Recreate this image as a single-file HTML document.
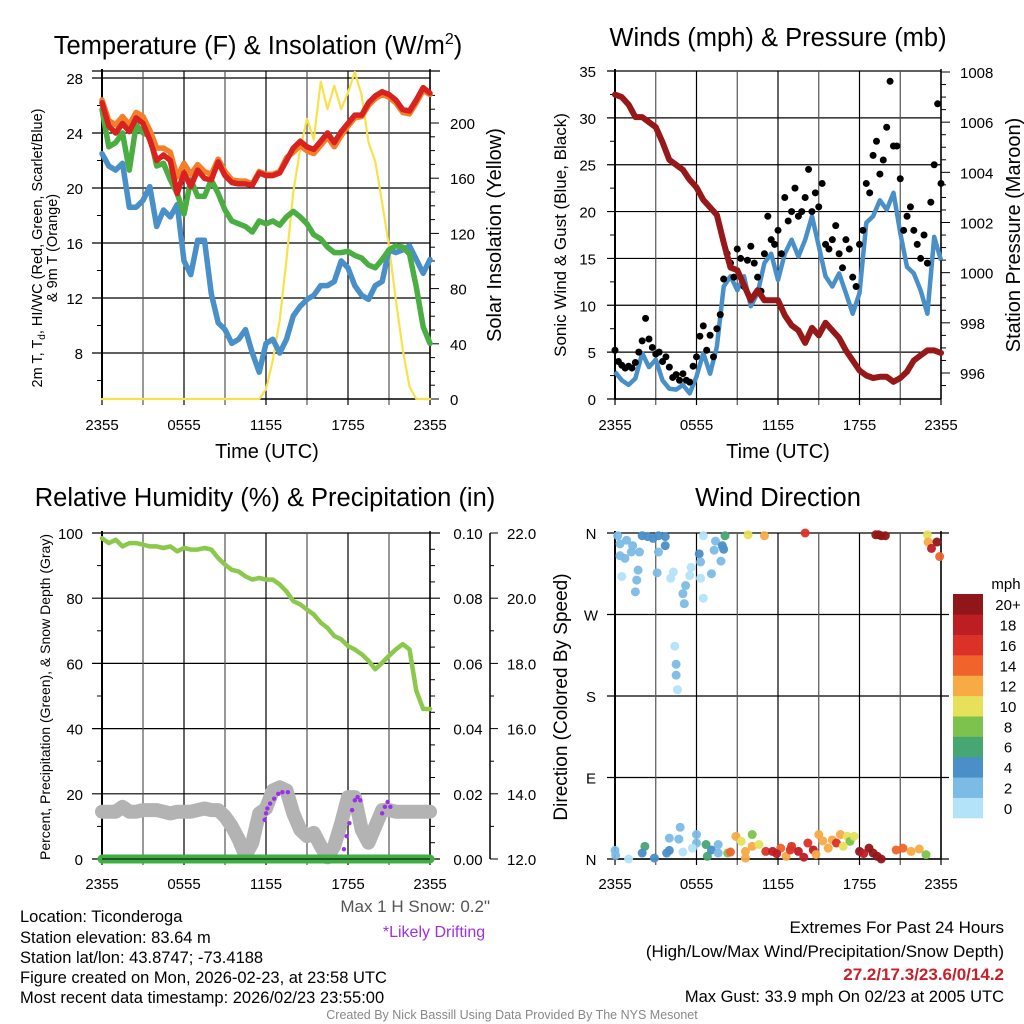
<!DOCTYPE html>
<html><head><meta charset="utf-8"><style>
html,body{margin:0;padding:0;background:#fff;}
svg{display:block;font-family:"Liberation Sans",Arial,sans-serif;}
</style></head><body>
<svg id="c" width="1024" height="1024" viewBox="0 0 1024 1024"></svg>
<script>
// ---------- DATA (half-hourly, hours 0..24 from 2355 UTC) ----------
const hours = [0,0.5,1,1.5,2,2.5,3,3.5,4,4.5,5,5.5,6,6.5,7,7.5,8,8.5,9,9.5,10,10.5,11,11.5,12,12.5,13,13.5,14,14.5,15,15.5,16,16.5,17,17.5,18,18.5,19,19.5,20,20.5,21,21.5,22,22.5,23,23.5,24];
const timeTicks = ["2355","0555","1155","1755","2355"];
const temp2m = [26.2,24.5,24.0,24.7,24.1,25.1,24.7,23.5,22.0,22.4,22.0,19.6,21.1,20.1,21.3,20.7,20.6,21.9,20.9,20.4,20.3,20.3,20.2,21.1,20.9,20.9,21.1,22.0,22.9,23.4,23.0,22.8,23.4,24.0,23.3,24.1,24.7,25.3,25.3,26.2,26.7,27.0,26.8,26.4,25.7,25.6,26.4,27.3,26.9];
const temp9m = [26.4,24.9,24.6,25.2,24.6,25.5,25.2,24.2,22.9,22.9,22.6,20.8,21.8,21.0,21.7,21.2,21.0,22.1,21.2,20.6,20.5,20.5,20.3,21.2,21.0,21.0,21.2,22.2,22.6,23.1,22.7,22.5,23.1,23.7,23.0,23.8,24.5,25.1,25.2,26.0,26.5,26.8,26.6,26.2,25.5,25.4,26.2,27.1,26.8];
const dewpt = [25.7,23.0,23.3,24.0,21.3,24.6,24.0,23.8,21.6,21.8,20.6,19.6,18.1,20.6,19.4,19.4,20.6,19.6,18.4,17.6,17.4,17.2,16.8,17.6,17.4,17.6,17.3,17.9,18.3,17.9,17.4,16.6,16.3,15.7,15.3,15.3,15.4,15.1,14.9,14.4,14.2,14.8,15.5,15.8,15.7,15.2,12.8,9.9,8.7];
const heatIdx = [22.5,21.6,21.3,21.8,18.6,18.6,19.1,20.1,17.2,18.4,17.9,18.8,14.7,13.7,16.2,16.2,12.3,10.2,9.7,8.7,9.0,9.7,8.0,6.6,8.7,9.0,8.0,9.0,10.7,11.4,11.9,12.2,12.9,12.9,13.2,14.7,14.2,12.9,12.2,11.9,12.9,13.2,15.5,15.3,15.5,15.8,14.8,13.8,14.8];
const solar = [0,0,0,0,0,0,0,0,0,0,0,0,0,0,0,0,0,0,0,0,0,0,0,0,7,28,57,101,150,181,203,188,230,210,227,210,222,237,220,186,172,142,111,72,36,9,0,0,0];
const tempTicks = [8,12,16,20,24,28];
const solarTicks = [0,40,80,120,160,200];

const pressure = [1007.1,1007.0,1006.7,1006.2,1006.2,1006.0,1005.8,1005.2,1004.5,1004.3,1004.1,1003.7,1003.4,1002.9,1002.6,1002.3,1001.2,1000.2,1000.1,999.5,998.9,999.3,998.9,998.9,998.9,998.3,997.9,997.7,997.2,997.8,997.5,998.0,997.7,997.4,996.9,996.5,996.1,995.9,995.8,995.85,995.85,995.65,995.8,996.05,996.5,996.7,996.9,996.9,996.8];
const windSpd = [2.9,2.0,1.5,2.2,4.9,3.4,4.2,2.0,1.1,1.0,1.5,0.6,2.4,4.9,2.7,5.6,12.0,13.1,11.6,13.1,9.9,11.3,14.5,15.5,12.7,15.5,17.0,15.2,17.0,19.5,16.3,13.1,12.0,13.4,11.3,9.1,11.3,18.8,19.5,21.2,20.2,22.0,17.7,14.1,13.4,11.6,9.1,17.3,14.8];
// gusts every 15 min
const gustVals = [5.2,4.0,3.6,3.3,3.5,3.3,3.9,5.0,6.2,8.6,6.4,5.5,4.8,5.0,4.0,4.5,3.4,2.3,2.6,2.0,2.7,2.0,1.8,3.5,4.5,6.7,7.8,5.2,6.8,4.5,7.5,9.0,12.8,15.5,14.5,13.0,16.0,15.0,12.0,14.8,16.3,14.5,13.0,11.5,15.5,19.5,17.0,16.5,18.0,15.5,21.5,19.0,20.0,22.5,19.5,20.0,21.5,24.5,20.0,22.0,20.5,23.0,16.5,16.0,17.0,18.5,15.5,14.0,17.0,16.0,13.0,12.0,16.5,18.0,23.0,22.0,26.0,27.5,24.0,25.5,29.0,33.9,27.0,27.0,23.5,18.0,19.5,20.5,18.0,16.5,15.0,17.5,14.5,21.0,25.0,31.5,23.0];
const windTicks = [0,5,10,15,20,25,30,35];
const presTicks = [996,998,1000,1002,1004,1006,1008];

const rh = [98.4,96.9,97.9,95.9,96.9,96.9,96.4,95.9,95.9,95.4,95.9,94.4,95.4,94.9,94.9,95.4,94.9,92.3,90.3,88.7,88.2,86.7,85.7,86.2,85.7,85.7,84.2,82.1,79.1,78.1,76.5,75.0,72.5,70.9,68.4,67.4,65.3,64.3,62.8,60.8,58.2,60.2,62.3,64.3,65.9,64.3,51.6,46.0,46.0];
const snowDepth = [13.45,13.45,13.45,13.6,13.45,13.45,13.5,13.5,13.5,13.45,13.4,13.45,13.45,13.45,13.5,13.55,13.5,13.5,13.3,13.0,12.6,12.1,12.5,13.4,13.55,14.1,14.2,14.1,13.4,12.9,12.7,12.8,12.4,12.05,12.4,13.1,13.9,13.9,12.9,12.5,13.0,13.5,13.5,13.45,13.45,13.45,13.45,13.45,13.45];
const precip = [0,0,0,0,0,0,0,0,0,0,0,0,0,0,0,0,0,0,0,0,0,0,0,0,0,0,0,0,0,0,0,0,0,0,0,0,0,0,0,0,0,0,0,0,0,0,0,0,0];
const driftTimes = [11.9,12.0,12.1,12.3,12.6,12.9,13.2,13.6,17.7,17.9,18.1,18.3,18.5,18.7,18.9,20.5,20.7,20.9,21.1];
const driftDepth = [13.2,13.4,13.55,13.7,13.85,14.0,14.05,14.05,12.3,12.7,13.1,13.5,13.8,13.9,13.8,13.4,13.6,13.75,13.6];
const rhTicks = [0,20,40,60,80,100];
const precipTicks = ["0.00","0.02","0.04","0.06","0.08","0.10"];
const snowTicks = ["12.0","14.0","16.0","18.0","20.0","22.0"];

const dirTimes = [0.2,0.37,0.85,1.3,0.37,0.73,1.2,1.8,0.5,1.7,1.6,1.5,2,2.4,2.8,3.2,3.7,3.7,3.2,3.1,4.3,4.1,5,5.2,5.1,5.5,5.6,6.2,6.3,6.3,6.5,7.1,7.3,7.4,7.9,8,7.8,8.1,6.5,4.4,4.5,4.5,4.6,9.8,11,14,19.6,19.4,19.9,19.2,23,23.05,23.7,23.3,23.9,
 0,0.05,1,2.2,2,2.9,3.8,4,5,4,4.8,4.7,6,6,5.7,6.7,6.8,7.1,7.6,7.6,8.3,8.5,8.9,9.3,9.6,9.6,10.1,10.1,10.6,11.1,11.6,12.2,12.6,13,13.5,13.9,14.2,14.6,15,15.7,16,16.3,16.6,17.1,17.3,17.6,18,18.7,19,19.6,20.7,21.2,21.8,22.4,22.9,11.9,12.9,14.8,15.3,16.8,18.3,19.3];
const dirVals = [357,348,352,346,335,332,339,339,312,319,308,295,357,356,354,357,356,346,339,316,317,310,293,302,282,313,322,337,328,310,288,315,341,351,346,342,329,357,357,235,215,203,187,358,357,360,357,358,357,358,358,350,350,343,334,
 9.5,4,0,14,6.6,1,6.6,9.5,7.7,23,35,22,27,17.6,12,16,3,10,16,6.6,6.6,7.7,25,19.5,8.4,1,27,14,16,8.4,8.4,12,3,14,8.4,2,17.6,10,27,12,21,17.6,27,25,19.5,25,8.4,12,6.6,0,10,12,8.4,11,4.8,6,10,5,20,14,6,3];
const dirSpeeds = [2.5,2.5,2.5,2.5,2.5,2.5,2.5,2.5,0.5,2.5,2.5,2.5,5,5,5,4.5,4.5,5,2.5,2.5,0.5,0.5,2.5,2.5,2.5,0.5,0.5,5,2.5,0.5,0.5,2.5,2.5,2.5,5,5,2.5,6.5,0.5,0.5,2.5,2.5,0.5,10.5,12.5,16.5,21,21,21,21,10.5,12.5,21,18.5,14.5,
 2.5,2.5,0.5,6.5,5,5,5,4.5,0.5,2.5,2.5,2.5,2.5,2.5,0.5,6.5,6.5,5,2.5,2.5,8.5,14.5,12.5,10.5,12.5,12.5,8.5,12.5,10.5,16.5,18.5,14.5,12.5,16.5,18.5,18.5,16.5,18.5,12.5,12.5,12.5,16.5,12.5,10.5,8.5,10.5,21,21,21,21,14.5,14.5,12.5,12.5,8.5,18.5,16.5,12.5,12.5,10.5,18.5,21];
const dirLabels = ["N","E","S","W","N"];
const speedColors = ["#b3e3f8","#7cbbe6","#4a8fc8","#47a772","#7dc24c","#e6e05a","#f8aa45","#f0632b","#dc3128","#bd1e24","#911619"];
const speedLabels = ["0","2","4","6","8","10","12","14","16","18","20+"];

// ---------- helpers ----------
const svg = document.getElementById('c');
const NS = 'http://www.w3.org/2000/svg';
function mk(tag, attrs, parent){
  const e = document.createElementNS(NS, tag);
  for (const k in attrs) e.setAttribute(k, attrs[k]);
  (parent||svg).appendChild(e);
  return e;
}
function txt(s, x, y, size, anchor, parent, extra){
  const a = {x:x, y:y, 'font-size':size, 'text-anchor':anchor||'middle', fill:'#000'};
  if (extra) for (const k in extra) a[k]=extra[k];
  const t = mk('text', a, parent);
  t.textContent = s;
  return t;
}
function linScale(d0,d1,r0,r1){ return v => r0 + (v-d0)/(d1-d0)*(r1-r0); }
function pathFrom(xs, ys){ return xs.map((x,i)=>(i?'L':'M')+x.toFixed(1)+','+ys[i].toFixed(1)).join(''); }

function frame(g, L, R, T, B, xScale, timeLabelY){
  for (let h=0; h<=24; h+=3){
    const x = xScale(h);
    const ln = mk('line',{x1:x,x2:x,y1:T,y2:B+6,stroke:(h%6===0)?'#000':'#555','stroke-width':1.2},g);
    
    
  }
  for (let i=0;i<timeTicks.length;i++){
    const t = txt(timeTicks[i], xScale(i*6), timeLabelY, 15, 'middle', g);
    
    
  }
  mk('line',{x1:L,x2:L,y1:T-2,y2:B,stroke:'#000','stroke-width':2},g);
  mk('line',{x1:R,x2:R,y1:T-2,y2:B,stroke:'#000','stroke-width':1.5},g);
  mk('line',{x1:L,x2:R,y1:B,y2:B,stroke:'#000','stroke-width':1.5},g);
}

// ================= PANEL 1 =================
(function(){
  const g = mk('g',{});
  const L=102,R=430,T=71,B=399;
  const x = linScale(0,24,L,R);
  const y = linScale(28,8,78,353);
  const ys = linScale(0,200,399,123);
  mk('line',{x1:L-10,x2:R+10,y1:T,y2:T,stroke:'#000','stroke-width':1.2},g);
  tempTicks.forEach(v=>{
    const yy=y(v);
    mk('line',{x1:L-10,x2:R,y1:yy,y2:yy,stroke:'#000','stroke-width':1.2},g);
    const t=txt(String(v),L-19,yy+6,15,'end',g);
    
    
  });
  for (let v=6; v<=28; v+=2){ if (v%4) mk('line',{x1:L-5,x2:L,y1:y(v),y2:y(v),stroke:'#000'},g); }
  solarTicks.forEach(v=>{
    const yy=ys(v);
    mk('line',{x1:R,x2:R+9,y1:yy,y2:yy,stroke:'#000'},g);
    const t=txt(String(v),R+20,yy+6,15,'start',g);
    
    
  });
  for (let v=10; v<=220; v+=10){ if (v%40) mk('line',{x1:R,x2:R+5,y1:ys(v),y2:ys(v),stroke:'#000'},g); }
  frame(g,L,R,T,B,x,430);
  const X = hours.map(x);
  const series = [
    ['solar-line', solar.map(ys), '#f9e14b', 2.2],
    ['heat-index-line', heatIdx.map(y), '#4a90c8', 5.5],
    ['dewpoint-line', dewpt.map(y), '#4aae43', 5.5],
    ['temp-9m-line', temp9m.map(y), '#f47f2a', 5.5],
    ['temp-2m-line', temp2m.map(y), '#d7221f', 5.5]
  ];
  series.forEach(s=>{
    const p = mk('path',{d:pathFrom(X,s[1]),fill:'none',stroke:s[2],'stroke-width':s[3],'stroke-linejoin':'round','stroke-linecap':'round'},g);
    
    
  });
  const ti = txt('Temperature (F) & Insolation (W/m',258,54,25.5,'middle',g,{});
  const sup = mk('tspan',{dy:-10,'font-size':16},ti); sup.textContent='2';
  const cl = mk('tspan',{dy:10},ti); cl.textContent=')';
  txt('Time (UTC)',267,458,20,'middle',g,{});
  const yl = mk('text',{transform:'translate(42,248) rotate(-90)','font-size':14.5,'text-anchor':'middle',},g);
  yl.innerHTML='2m T, T<tspan font-size="10" dy="3">d</tspan><tspan dy="-3">, HI/WC (Red, Green, Scarlet/Blue)</tspan>';
  txt('& 9m T (Orange)',0,0,14.5,'middle',g,{transform:'translate(57,248) rotate(-90)',});
  txt('Solar Insolation (Yellow)',0,0,20,'middle',g,{transform:'translate(501,235) rotate(-90)',});
})();

// ================= PANEL 2 =================
(function(){
  const g = mk('g',{});
  const L=615,R=941,T=71,B=399;
  const x = linScale(0,24,L,R);
  const y = linScale(0,35,399,71);
  const yp = linScale(996,1008,373,72);
  windTicks.forEach(v=>{
    const yy=y(v);
    mk('line',{x1:L-8,x2:R,y1:yy,y2:yy,stroke:'#000','stroke-width':1.2},g);
    const t=txt(String(v),L-19,yy+6,15,'end',g);
    
    
  });
  for (let v=2.5; v<35; v+=5) mk('line',{x1:L-5,x2:L,y1:y(v),y2:y(v),stroke:'#000'},g);
  presTicks.forEach(v=>{
    const yy=yp(v);
    mk('line',{x1:R,x2:R+9,y1:yy,y2:yy,stroke:'#000'},g);
    const t=txt(String(v),R+19,yy+6,15,'start',g);
    
    
  });
  for (let v=995.5; v<=1008; v+=0.5){ if (Math.abs(v-Math.round(v/2)*2)>0.01) mk('line',{x1:R,x2:R+5,y1:yp(v),y2:yp(v),stroke:'#000'},g); }
  frame(g,L,R,T,B,x,430);
  const X = hours.map(x);
  const w = mk('path',{d:pathFrom(X,windSpd.map(y)),fill:'none',stroke:'#4a90c8','stroke-width':4.5,'stroke-linejoin':'round'},g);
  
  
  gustVals.forEach((v,i)=>{
    const c = mk('circle',{cx:x(i*0.25),cy:y(v),r:3.5,fill:'#000'},g);
    
    
  });
  const p = mk('path',{d:pathFrom(X,pressure.map(yp)),fill:'none',stroke:'#961818','stroke-width':6,'stroke-linejoin':'round','stroke-linecap':'round'},g);
  
  
  txt('Winds (mph) & Pressure (mb)',778,46,25.5,'middle',g,{});
  txt('Time (UTC)',778,458,20,'middle',g,{});
  txt('Sonic Wind & Gust (Blue, Black)',0,0,17,'middle',g,{transform:'translate(566,235) rotate(-90)',});
  txt('Station Pressure (Maroon)',0,0,20,'middle',g,{transform:'translate(1020,235) rotate(-90)',});
})();

// ================= PANEL 3 =================
(function(){
  const g = mk('g',{});
  const L=102,R=430,T=533,B=859;
  const x = linScale(0,24,L,R);
  const y = linScale(0,100,859,533);
  const ysn = linScale(12,22,859,533);
  rhTicks.forEach(v=>{
    const yy=y(v);
    mk('line',{x1:L-10,x2:R+10,y1:yy,y2:yy,stroke:'#000','stroke-width':1.2},g);
    const t=txt(String(v),L-19,yy+6,15,'end',g);
    
    
  });
  for (let v=10; v<100; v+=20) mk('line',{x1:L-5,x2:L,y1:y(v),y2:y(v),stroke:'#000'},g);
  for (let v=5; v<100; v+=5){ if (v%20) mk('line',{x1:R,x2:R+5,y1:y(v),y2:y(v),stroke:'#000'},g); }
  precipTicks.forEach((s,i)=>{
    const t=txt(s,R+38,y(i*20)+6,15,'middle',g);
    
    
  });
  mk('line',{x1:490,x2:490,y1:T,y2:B,stroke:'#000','stroke-width':1.5},g);
  snowTicks.forEach((s,i)=>{
    const yy=ysn(12+i*2);
    mk('line',{x1:490,x2:498,y1:yy,y2:yy,stroke:'#000'},g);
    const t=txt(s,507,yy+6,15,'start',g);
    
    
  });
  for (let v=13; v<22; v+=2) mk('line',{x1:490,x2:494,y1:ysn(v),y2:ysn(v),stroke:'#000'},g);
  frame(g,L,R,T,B,x,889);
  const X = hours.map(x);
  const sn = mk('path',{d:pathFrom(X,snowDepth.map(ysn)),fill:'none',stroke:'#b3b3b3','stroke-width':14,'stroke-linejoin':'round','stroke-linecap':'round'},g);
  
  
  driftTimes.forEach((t,i)=>{
    const c = mk('circle',{cx:x(t),cy:ysn(driftDepth[i]),r:2.2,fill:'#9b30e8'},g);
    
    
  });
  const pr = mk('path',{d:pathFrom(X,precip.map(v=>y(v*1000))),fill:'none',stroke:'#3fae43','stroke-width':9,'stroke-linecap':'round'},g);
  
  
  mk('line',{x1:L,x2:R,y1:B,y2:B,stroke:'#000','stroke-width':1},g);
  const r = mk('path',{d:pathFrom(X,rh.map(y)),fill:'none',stroke:'#8cc84b','stroke-width':4.5,'stroke-linejoin':'round','stroke-linecap':'round'},g);
  
  
  txt('Relative Humidity (%) & Precipitation (in)',265,506,25.5,'middle',g,{});
  txt('Percent, Precipitation (Green), & Snow Depth (Gray)',0,0,14,'middle',g,{transform:'translate(50,697) rotate(-90)',});
  txt('Max 1 H Snow: 0.2"',490,912,17,'end',g,{fill:'#555',});
  txt('*Likely Drifting',434,937,16,'middle',g,{fill:'#9b30e8',});
})();

// ================= PANEL 4 =================
(function(){
  const g = mk('g',{});
  const L=615,R=941,T=533,B=859;
  const x = linScale(0,24,L,R);
  const y = linScale(0,360,859,533);
  dirLabels.forEach((s,i)=>{
    const yy=y(i*90);
    mk('line',{x1:L-8,x2:R+8,y1:yy,y2:yy,stroke:'#000','stroke-width':1.2},g);
    const t=txt(s,L-24,yy+6,15,'middle',g);
    
    
  });
  frame(g,L,R,T,B,x,889);
  dirTimes.forEach((t,i)=>{
    const bin = Math.min(10, Math.floor(dirSpeeds[i]/2));
    const c = mk('circle',{cx:x(t),cy:y(dirVals[i]),r:4.5,fill:speedColors[bin],'fill-opacity':0.95},g);
    
    
  });
  txt('Wind Direction',778,506,25.5,'middle',g,{});
  txt('Direction (Colored By Speed)',0,0,19,'middle',g,{transform:'translate(567,697) rotate(-90)',});
  const lg = mk('g',{},g);
  txt('mph',1006,589,15,'middle',lg,{});
  const h = 224/11;
  speedColors.forEach((col,i)=>{
    const yy = 818 - (i+1)*h;
    const rc = mk('rect',{x:953,y:yy,width:30,height:h+0.3,fill:col},lg);
    
    
    const t = txt(speedLabels[i],1008,yy+h/2+6,15,'middle',lg);
    
    
  });
})();

// ================= FOOTER =================
(function(){
  const g = mk('g',{});
  const lines = ['Location: Ticonderoga','Station elevation: 83.64 m','Station lat/lon: 43.8747; -73.4188','Figure created on Mon, 2026-02-23, at 23:58 UTC','Most recent data timestamp: 2026/02/23 23:55:00'];
  const ys = [922,943,963,983,1003];
  lines.forEach((s,i)=>{
    const t = txt(s,20,ys[i],16.5,'start',g);
    
    
  });
  txt('Extremes For Past 24 Hours',1004,933,17,'end',g,{});
  txt('(High/Low/Max Wind/Precipitation/Snow Depth)',1004,957,17,'end',g,{});
  txt('27.2/17.3/23.6/0/14.2',1004,980,17,'end',g,{fill:'#c8202a','font-weight':'bold',});
  txt('Max Gust: 33.9 mph On 02/23 at 2005 UTC',1004,1002,16.5,'end',g,{});
  txt('Created By Nick Bassill Using Data Provided By The NYS Mesonet',512,1019,12.5,'middle',g,{fill:'#888',});
})();
</script>
</body></html>
